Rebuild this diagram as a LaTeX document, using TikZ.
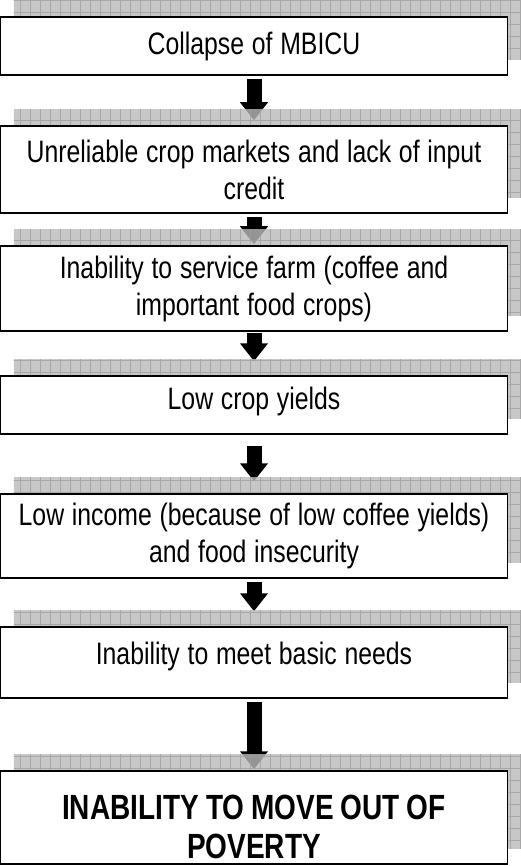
\documentclass[tikz,border=0pt]{standalone}
\usepackage{fontspec}
\setmainfont[FakeStretch=0.8]{Liberation Sans}
\newfontfamily\povertyfont[FakeStretch=0.8]{Liberation Sans}
\usetikzlibrary{arrows.meta,backgrounds}

\begin{document}
\begin{tikzpicture}[x=1pt, y=-1pt, line width=1.5pt,
      every node/.append style={font=\fontsize{31}{37}\selectfont},
      stepbox/.style={draw, fill=white, rectangle, minimum width=507pt,
        text width=495pt, align=center, inner sep=0pt,
        execute at begin node={\spaceskip=0.25em\relax}},
      bigarrow/.style={line width=15pt, -{Triangle[width=27pt,length=18pt]}},
      shade/.style={fill=gray!55, opacity=0.8},
      shadegrid/.style={draw=gray!75, line width=0.6pt, opacity=0.8}]
  \useasboundingbox (0,0) rectangle (521,866);
  \node (b1) [stepbox, minimum height=58pt] at (254,46) {Collapse of MBICU};
  \node (b2) [stepbox, minimum height=87pt] at (254,169.5)
    {Unreliable crop markets and lack of input\\ credit};
  \node (b3) [stepbox, minimum height=85pt] at (254,288.5)
    {Inability to service farm (coffee and\\ important food crops)};
  \node (b4) [stepbox, minimum height=58pt] at (254,405)
    {\raisebox{4pt}[\height][\depth]{Low crop yields}};
  \node (b5) [stepbox, minimum height=84pt] at (254,536)
    {Low income (because of low coffee yields)\\ and food insecurity};
  \node (b6) [stepbox, minimum height=71pt] at (254,662.5)
    {\raisebox{6pt}[\height][\depth]{Inability to meet basic needs}};
  \node (b7) [stepbox, minimum height=93pt] at (254,817.5)
    {\raisebox{-9pt}[\height][\depth]{\parbox{495pt}{\centering\povertyfont\bfseries
      \fontsize{35}{39}\selectfont\spaceskip=7pt\relax INABILITY TO MOVE OUT OF\\ POVERTY}}};
  \begin{scope}[on background layer]
    \draw[bigarrow, shorten <=3pt, shorten >=5pt] (b1.south) -- (b2.north);
    \draw[bigarrow, shorten <=3pt, shorten >=1pt] (b2.south) -- (b3.north);
    \draw[bigarrow, shorten <=1pt, shorten >=14pt] (b3.south) -- (b4.north);
    \draw[bigarrow, shorten <=11pt, shorten >=12pt] (b4.south) -- (b5.north);
    \draw[bigarrow, shorten <=3pt, shorten >=15pt] (b5.south) -- (b6.north);
    \draw[bigarrow, shorten <=3pt, shorten >=1pt] (b6.south) -- (b7.north);
    \foreach \b in {b1,b2,b3,b4,b5,b6,b7} {
      \begin{scope}
        \clip ([shift={(14pt,16pt)}]\b.south west) rectangle ([shift={(14pt,16pt)}]\b.north east);
        \fill[shade] (0,0) rectangle (521,866);
        \draw[shadegrid, xstep=10pt, ystep=12pt] (0,0) grid (521,866);
      \end{scope}
    }
  \end{scope}
\end{tikzpicture}
\end{document}
